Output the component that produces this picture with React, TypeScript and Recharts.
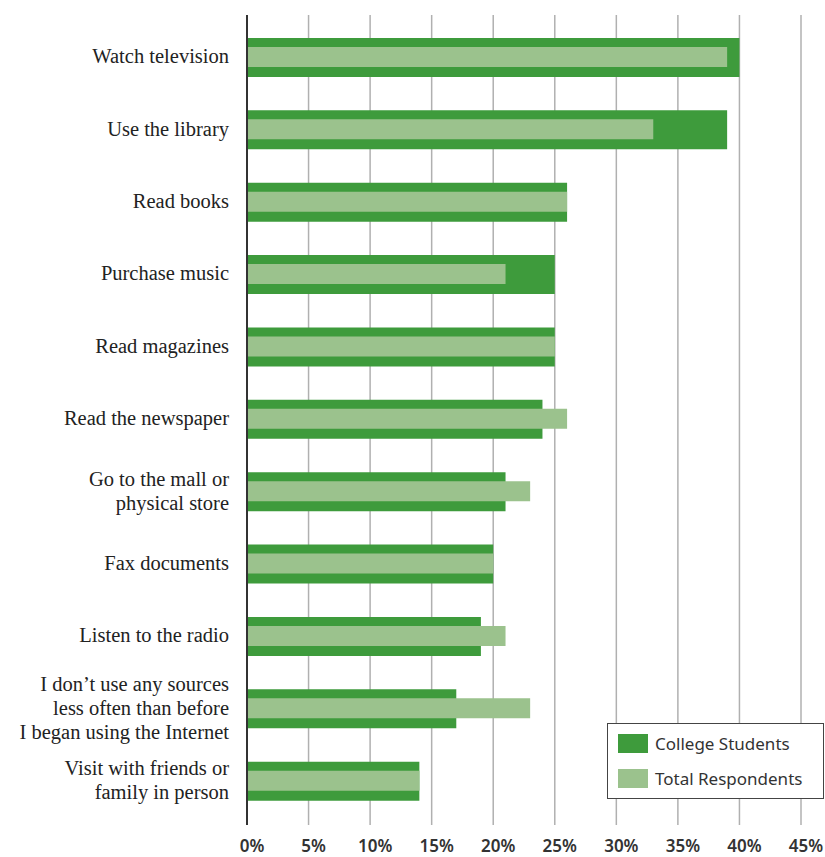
import React from "react";
import { BarChart, Bar, XAxis, YAxis, CartesianGrid } from "recharts";

const categories = [
  "Watch television",
  "Use the library",
  "Read books",
  "Purchase music",
  "Read magazines",
  "Read the newspaper",
  "Go to the mall or\nphysical store",
  "Fax documents",
  "Listen to the radio",
  "I don\u2019t use any sources\nless often than before\nI began using the Internet",
  "Visit with friends or\nfamily in person",
];
const collegeStudents = [40, 39, 26, 25, 25, 24, 21, 20, 19, 17, 14];
const totalRespondents = [39, 33, 26, 21, 25, 26, 23, 20, 21, 23, 14];
const xTicks = [0, 5, 10, 15, 20, 25, 30, 35, 40, 45];
const seriesNames = ["College Students", "Total Respondents"];

const data = categories.map((c, i) => ({
  name: c,
  college: collegeStudents[i],
  total: totalRespondents[i],
}));

const DARK = "#3E9B3C";
const LIGHT = "#9BC28D";

const YTick = (props: any) => {
  const { x, y, payload } = props;
  const lines = String(payload.value).split("\n");
  const lh = 24;
  const start = -((lines.length - 1) * lh) / 2;
  return (
    <text
      x={x}
      y={y}
      textAnchor="end"
      fill="#222"
      fontFamily="'Liberation Serif', serif"
      fontSize={20.5}
    >
      {lines.map((l, i) => (
        <tspan key={i} x={x} y={y + start + i * lh} dy="0.3em">
          {l}
        </tspan>
      ))}
    </text>
  );
};

const XTick = (props: any) => {
  const { x, y, payload } = props;
  return (
    <text
      x={x + 5}
      y={y + 27}
      textAnchor="middle"
      fill="#333"
      fontFamily="'Noto Sans', sans-serif"
      fontWeight={600}
      fontSize={17}
    >
      {payload.value}%
    </text>
  );
};

const LegendBox = () => (
  <div
    style={{
      position: "absolute",
      left: 607,
      top: 723,
      width: 217,
      height: 76,
      boxSizing: "border-box",
      border: "1.5px solid #444",
      background: "#fff",
      fontFamily: "'Noto Sans', sans-serif",
      fontSize: 17,
      color: "#333",
    }}
  >
    {[
      { label: seriesNames[0], color: DARK, top: 10 },
      { label: seriesNames[1], color: LIGHT, top: 45 },
    ].map((it) => (
      <div key={it.label} style={{ position: "absolute", left: 10, top: it.top, display: "flex", alignItems: "center", whiteSpace: "nowrap" }}>
        <div style={{ width: 30, height: 19, background: it.color, marginRight: 7 }} />
        <span style={{ lineHeight: "19px" }}>{it.label}</span>
      </div>
    ))}
  </div>
);

export default function App() {
  return (
    <div style={{ position: "absolute", left: 0, top: 0, width: 825, height: 857, background: "#fff" }}>
      <BarChart
        width={825}
        height={857}
        data={data}
        layout="vertical"
        margin={{ top: 15, right: 24, bottom: 0, left: 0 }}
      >
        <CartesianGrid vertical horizontal={false} stroke="#b0b0b0" strokeWidth={1.5} />
        <XAxis
          type="number"
          domain={[0, 45]}
          ticks={xTicks}
          interval={0}
          axisLine={false}
          tickLine={false}
          tickSize={0}
          tickMargin={0}
          height={32}
          tick={<XTick />}
        />
        <YAxis
          yAxisId="a"
          type="category"
          dataKey="name"
          width={247}
          axisLine={{ stroke: "#333", strokeWidth: 2 }}
          tickLine={false}
          tickSize={0}
          tickMargin={18}
          interval={0}
          padding={{ top: 6, bottom: 8 }}
          tick={<YTick />}
        />
        <YAxis
          yAxisId="b"
          type="category"
          dataKey="name"
          hide
          padding={{ top: 6, bottom: 8 }}
        />
        <Bar yAxisId="a" dataKey="college" name={seriesNames[0]} fill={DARK} barSize={39} isAnimationActive={false} />
        <Bar yAxisId="b" dataKey="total" name={seriesNames[1]} fill={LIGHT} barSize={20} isAnimationActive={false} />
      </BarChart>
      <LegendBox />
    </div>
  );
}
